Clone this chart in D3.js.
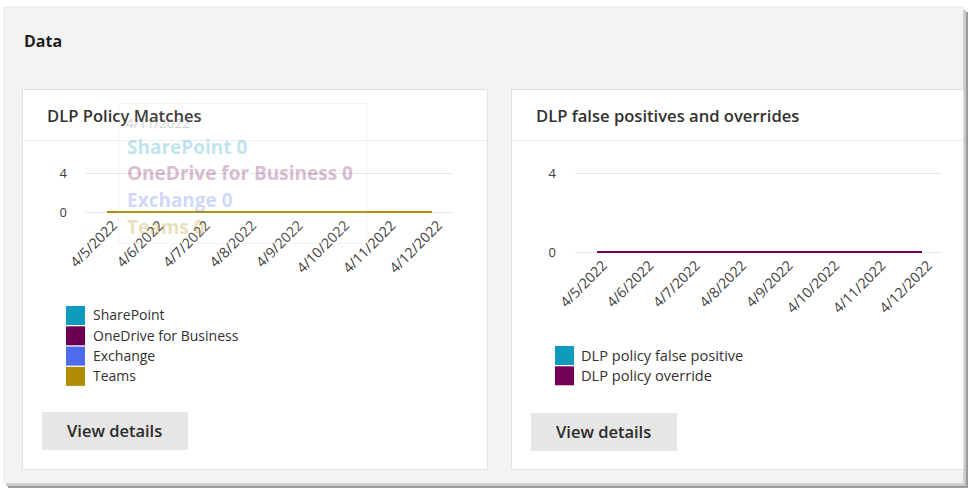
<!DOCTYPE html>
<html><head><meta charset="utf-8">
<script src="https://cdn.jsdelivr.net/npm/d3@7"></script>
<style>
html,body{margin:0;padding:0;background:#fff;}
svg{display:block;font-family:"Open Sans","Noto Sans",sans-serif;}
</style></head>
<body>
<svg id="c" width="973" height="494"></svg>
<script>
// ---- data ----
const dates = ["4/5/2022","4/6/2022","4/7/2022","4/8/2022","4/9/2022","4/10/2022","4/11/2022","4/12/2022"];
const yTicks = [0, 4];
const matchSeries = ["SharePoint","OneDrive for Business","Exchange","Teams"];
const sharePoint = [0,0,0,0,0,0,0,0];
const oneDrive   = [0,0,0,0,0,0,0,0];
const exchange   = [0,0,0,0,0,0,0,0];
const teams      = [0,0,0,0,0,0,0,0];
const fpSeries = ["DLP policy false positive","DLP policy override"];
const falsePositive = [0,0,0,0,0,0,0,0];
const override      = [0,0,0,0,0,0,0,0];
const tooltipDate = "4/11/2022";

const matchColors = ["#0f9bbd","#6b0050","#4f6bed","#b08c00"];
const fpColors = ["#0f9bbd","#730052"];

const svg = d3.select("#c");

// background panel + shadow
svg.append("rect").attr("x",8).attr("y",12).attr("width",960).attr("height",476).attr("fill","#9c9c9c");
svg.append("rect").attr("x",6).attr("y",10).attr("width",960).attr("height",476).attr("fill","#c8c8c8");
svg.append("rect").attr("x",4).attr("y",7).attr("width",959).attr("height",476).attr("fill","#f3f3f3").attr("stroke","#e8e8e8");

svg.append("text").attr("x",24).attr("y",47).text("Data")
  .attr("font-size",16).attr("font-weight",700).attr("fill","#1f1f1f");

function card(opt){
  const g = svg.append("g");
  g.append("rect").attr("x",opt.x+0.5).attr("y",89.5).attr("width",opt.w).attr("height",380)
    .attr("fill","#fff").attr("stroke","#e3e3e3");
  g.append("line").attr("x1",opt.x+1).attr("x2",opt.x+opt.w).attr("y1",140.5).attr("y2",140.5).attr("stroke","#ececec");
  g.append("text").attr("x",opt.x+25).attr("y",122).text(opt.title)
    .attr("font-size",16.6).attr("font-weight",600).attr("fill","#323130");

  const x = d3.scalePoint().domain(dates).range([opt.x0, opt.x1]);
  const y = d3.scaleLinear().domain([0,4]).range([opt.y0, 173]);

  // grid
  g.append("g").selectAll("line").data(yTicks).join("line")
    .attr("x1",opt.gx0).attr("x2",opt.gx1)
    .attr("y1",d=>y(d)+0.5).attr("y2",d=>y(d)+0.5)
    .attr("stroke","#e6e6e6");
  // y axis labels
  const ya = g.append("g").attr("transform",`translate(${opt.gx0-19},0)`)
    .call(d3.axisLeft(y).tickValues(yTicks).tickFormat(d3.format("d")).tickSize(0).tickPadding(0));
  ya.select(".domain").remove();
  ya.selectAll("text").attr("font-size",13).attr("fill","#404040").attr("font-family","'Open Sans',sans-serif");

  // x axis labels
  const xa = g.append("g").attr("transform",`translate(0,${opt.y0})`)
    .call(d3.axisBottom(x).tickSize(0).tickPadding(0));
  xa.select(".domain").remove();
  xa.selectAll("text")
    .attr("font-size",14.2).attr("fill","#404040").attr("font-family","'Open Sans',sans-serif")
    .attr("text-anchor","end")
    .attr("transform","translate(7,11) rotate(-45)")
    .attr("dy","0.35em");

  // lines
  const line = d3.line().x((d,i)=>x(dates[i])).y(d=>y(d));
  opt.series.forEach((s,i)=>{
    g.append("path").datum(s).attr("d",line).attr("fill","none")
      .attr("stroke",opt.colors[i]).attr("stroke-width",2.2);
  });

  // legend
  const lg = g.append("g").selectAll("g").data(opt.names).join("g")
    .attr("transform",(d,i)=>`translate(${opt.lx},${opt.ly+i*20.3})`);
  lg.append("rect").attr("width",19).attr("height",19).attr("fill",(d,i)=>opt.colors[i]);
  lg.append("text").attr("x",opt.tx).attr("y",9.5).attr("dy","0.35em").text(d=>d)
    .attr("font-size",opt.lfs).attr("fill","#323130");

  // button
  g.append("rect").attr("x",opt.x+20).attr("y",opt.by).attr("width",146).attr("height",38).attr("fill","#e6e6e6");
  g.append("text").attr("x",opt.x+45).attr("y",opt.by+19).attr("dy","0.35em").text("View details")
    .attr("font-size",16.5).attr("font-weight",600).attr("fill","#2b2b2b");
  return {g,x,y};
}

const c1 = card({x:22,w:465,title:"DLP Policy Matches",x0:107,x1:432,y0:212,gx0:86,gx1:453,
  series:[sharePoint,oneDrive,exchange,teams],colors:matchColors,names:matchSeries,lx:66,ly:306,by:412,tx:27,lfs:14});
const c2 = card({x:511,w:452,title:"DLP false positives and overrides",x0:597,x1:922,y0:252,gx0:575,gx1:942,
  series:[falsePositive,override],colors:fpColors,names:fpSeries,lx:555,ly:346,by:413,tx:26,lfs:14.6});

// faded tooltip over chart 1
const tip = svg.append("g").attr("opacity",0.26);
tip.append("rect").attr("x",118.5).attr("y",103.5).attr("width",248).attr("height",140)
  .attr("fill","#fff").attr("fill-opacity",0.3).attr("stroke","#d0d0d0");
tip.append("text").attr("x",126).attr("y",123).attr("dy","0.35em").text(tooltipDate)
  .attr("font-size",13.5).attr("fill","#505050");
const tipVals = [sharePoint, oneDrive, exchange, teams];
tip.selectAll("text.v").data(matchSeries).join("text").attr("class","v")
  .attr("x",127).attr("y",(d,i)=>147+i*26.7).attr("dy","0.35em")
  .text((d,i)=>d+" "+tipVals[i][dates.indexOf(tooltipDate)])
  .attr("font-size",19).attr("font-weight",700).attr("fill",(d,i)=>matchColors[i]);
</script>
</body></html>
